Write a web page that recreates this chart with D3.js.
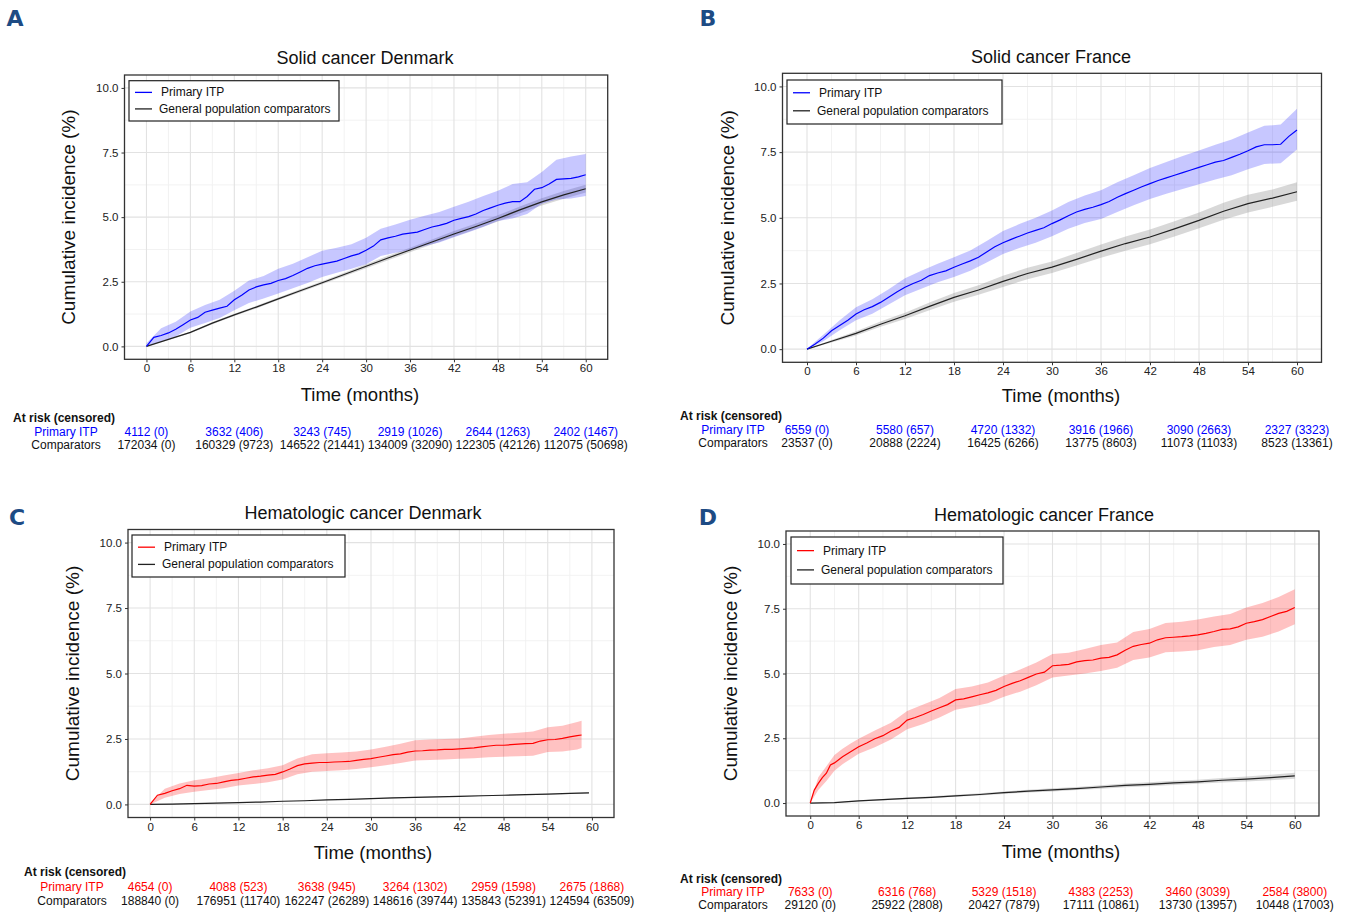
<!DOCTYPE html>
<html><head><meta charset="utf-8">
<script src="https://cdn.jsdelivr.net/npm/d3@7"></script>
<style>body{margin:0;background:#fff}svg{display:block;font-family:"Liberation Sans",Arial,sans-serif}</style>
</head><body>
<svg id="c" width="1345" height="924"></svg>
<script>
// ---------- DATA ----------
const xTicks = [0, 6, 12, 18, 24, 30, 36, 42, 48, 54, 60];
const yTicks = [0, 2.5, 5, 7.5, 10];
const atRiskMonths = [0, 12, 24, 36, 48, 60];
const seriesNames = ["Primary ITP", "General population comparators"];
const rowNames = ["Primary ITP", "Comparators"];
const titles = ["Solid cancer Denmark", "Solid cancer France", "Hematologic cancer Denmark", "Hematologic cancer France"];
const panelLetters = ["A", "B", "C", "D"];

// Panel A - Solid cancer Denmark
const aItpMonths = d3.range(0, 61);
const aItp = [0,0.35,0.42,0.52,0.66,0.84,1.02,1.12,1.32,1.40,1.48,1.55,1.80,1.98,2.18,2.30,2.38,2.44,2.55,2.62,2.74,2.88,3.02,3.12,3.18,3.24,3.30,3.40,3.50,3.58,3.72,3.88,4.12,4.20,4.26,4.34,4.38,4.42,4.52,4.62,4.68,4.76,4.88,4.95,5.02,5.12,5.26,5.36,5.46,5.54,5.60,5.60,5.80,6.08,6.14,6.28,6.46,6.48,6.50,6.56,6.64];
const aBandMonths = d3.range(0, 61, 2);
const aItpLow = [0,0.2,0.38,0.72,0.9,1.1,1.4,1.68,1.85,2.05,2.25,2.45,2.68,2.85,3.0,3.18,3.5,3.62,3.72,3.88,4.02,4.22,4.42,4.62,4.85,4.95,5.12,5.52,5.68,5.72,5.82];
const aItpHigh = [0.12,0.7,0.95,1.35,1.6,1.8,2.15,2.55,2.72,3.0,3.2,3.45,3.7,3.82,3.95,4.2,4.55,4.72,4.9,5.05,5.2,5.4,5.6,5.82,6.02,6.28,6.35,6.75,7.22,7.35,7.44];
const aCompMonths = d3.range(0, 61, 3);
const aComp = [0,0.27,0.54,0.9,1.22,1.52,1.84,2.15,2.46,2.78,3.1,3.42,3.73,4.04,4.35,4.64,4.95,5.28,5.59,5.86,6.1];
const aCompLow = [0,0.25,0.51,0.86,1.18,1.47,1.79,2.09,2.4,2.71,3.02,3.33,3.64,3.94,4.24,4.53,4.83,5.15,5.45,5.71,5.95];
const aCompHigh = [0,0.29,0.57,0.94,1.26,1.57,1.89,2.21,2.52,2.85,3.18,3.51,3.82,4.14,4.46,4.75,5.07,5.41,5.73,6.01,6.25];
const aRiskItp = [4112,3632,3243,2919,2644,2402];
const aCensItp = [0,406,745,1026,1263,1467];
const aRiskComp = [172034,160329,146522,134009,122305,112075];
const aCensComp = [0,9723,21441,32090,42126,50698];

// Panel B - Solid cancer France
const bItpMonths = d3.range(0, 61);
const bItp = [0,0.2,0.42,0.7,0.9,1.1,1.34,1.5,1.62,1.78,1.98,2.18,2.36,2.5,2.62,2.8,2.9,2.98,3.12,3.24,3.36,3.5,3.7,3.9,4.05,4.18,4.3,4.42,4.52,4.62,4.78,4.92,5.08,5.22,5.32,5.4,5.5,5.62,5.78,5.92,6.05,6.18,6.3,6.42,6.52,6.62,6.72,6.82,6.92,7.02,7.12,7.18,7.3,7.42,7.55,7.7,7.78,7.78,7.8,8.1,8.34];
const bBandMonths = d3.range(0, 61, 2);
const bItpLow = [0,0.3,0.72,1.1,1.35,1.7,2.05,2.3,2.55,2.75,2.98,3.3,3.62,3.85,4.05,4.3,4.58,4.8,4.95,5.22,5.48,5.72,5.92,6.1,6.28,6.46,6.62,6.85,7.05,7.08,7.6];
const bItpHigh = [0.02,0.55,1.1,1.6,1.9,2.28,2.7,2.98,3.25,3.5,3.76,4.12,4.5,4.76,5.0,5.28,5.6,5.85,6.05,6.35,6.62,6.9,7.12,7.35,7.56,7.78,7.98,8.25,8.5,8.55,9.15];
const bCompMonths = d3.range(0, 61, 3);
const bComp = [0,0.3,0.6,0.95,1.27,1.63,1.97,2.25,2.58,2.88,3.12,3.42,3.73,4.02,4.27,4.58,4.9,5.25,5.54,5.75,5.99];
const bCompLow = [0,0.25,0.52,0.85,1.15,1.48,1.8,2.07,2.37,2.66,2.9,3.18,3.48,3.75,3.99,4.29,4.6,4.93,5.2,5.42,5.65];
const bCompHigh = [0,0.35,0.68,1.05,1.39,1.78,2.14,2.43,2.79,3.1,3.34,3.66,3.98,4.29,4.55,4.87,5.2,5.57,5.88,6.08,6.35];
const bRiskItp = [6559,5580,4720,3916,3090,2327];
const bCensItp = [0,657,1332,1966,2663,3323];
const bRiskComp = [23537,20888,16425,13775,11073,8523];
const bCensComp = [0,2224,6266,8603,11033,13361];

// Panel C - Hematologic cancer Denmark
const cItpMonths = d3.range(0, 59).concat([58.6]);
const cItp = [0,0.35,0.42,0.52,0.6,0.73,0.7,0.72,0.78,0.8,0.86,0.92,0.95,1.0,1.05,1.08,1.12,1.15,1.24,1.35,1.48,1.55,1.58,1.6,1.6,1.62,1.63,1.64,1.68,1.72,1.75,1.8,1.85,1.9,1.93,2.0,2.04,2.05,2.07,2.08,2.1,2.1,2.12,2.14,2.16,2.2,2.23,2.26,2.26,2.28,2.3,2.32,2.33,2.42,2.47,2.48,2.52,2.58,2.63,2.65];
const cBandMonths = d3.range(0, 59, 2).concat([58.6]);
const cItpLow = [0,0.25,0.4,0.48,0.55,0.62,0.72,0.78,0.85,0.95,1.15,1.25,1.28,1.3,1.35,1.42,1.5,1.58,1.68,1.7,1.72,1.74,1.76,1.8,1.82,1.84,1.86,2.0,2.02,2.1,2.15];
const cItpHigh = [0.05,0.6,0.8,0.92,1.0,1.1,1.2,1.3,1.38,1.5,1.75,1.92,1.95,1.98,2.02,2.1,2.2,2.32,2.45,2.48,2.5,2.52,2.58,2.65,2.7,2.74,2.78,2.95,3.0,3.15,3.2];
const cCompMonths = d3.range(0, 60, 3).concat([59.6]);
const cComp = [0,0.01,0.03,0.05,0.07,0.09,0.12,0.14,0.17,0.19,0.22,0.25,0.27,0.29,0.31,0.33,0.35,0.37,0.39,0.42,0.44];
const cCompLow = [0,0.0,0.02,0.04,0.06,0.08,0.11,0.13,0.16,0.18,0.21,0.23,0.25,0.27,0.29,0.31,0.33,0.35,0.37,0.4,0.42];
const cCompHigh = [0,0.02,0.04,0.06,0.08,0.1,0.13,0.15,0.18,0.2,0.23,0.27,0.29,0.31,0.33,0.35,0.37,0.39,0.41,0.44,0.46];
const cRiskItp = [4654,4088,3638,3264,2959,2675];
const cCensItp = [0,523,945,1302,1598,1868];
const cRiskComp = [188840,176951,162247,148616,135843,124594];
const cCensComp = [0,11740,26289,39744,52391,63509];

// Panel D - Hematologic cancer France
const dItpMonths = [0,0.5,1,1.5,2,2.5].concat(d3.range(3, 61));
const dItp = [0,0.5,0.76,0.98,1.15,1.47,1.55,1.79,1.98,2.17,2.32,2.48,2.6,2.78,2.92,3.2,3.3,3.42,3.55,3.68,3.8,3.98,4.02,4.1,4.18,4.25,4.35,4.5,4.62,4.72,4.85,4.98,5.05,5.3,5.32,5.35,5.45,5.5,5.52,5.59,5.62,5.72,5.9,6.05,6.12,6.17,6.3,6.38,6.4,6.42,6.45,6.49,6.55,6.62,6.7,6.72,6.8,6.94,7.0,7.08,7.2,7.32,7.4,7.55];
const dBandMonths = [0,1,2,3,4,5].concat(d3.range(6, 61, 2));
const dItpLow = [0,0.5,0.85,1.25,1.5,1.7,1.9,2.15,2.45,2.85,3.05,3.3,3.6,3.72,3.85,4.1,4.3,4.55,4.85,4.92,5.0,5.1,5.22,5.52,5.62,5.82,5.85,5.9,6.02,6.1,6.3,6.42,6.62,6.9];
const dItpHigh = [0,1.0,1.42,1.85,2.1,2.3,2.48,2.8,3.1,3.55,3.8,4.05,4.4,4.5,4.65,4.92,5.15,5.42,5.75,5.8,5.95,6.1,6.2,6.6,6.72,6.95,7.0,7.08,7.2,7.3,7.55,7.72,7.95,8.25];
const dCompMonths = d3.range(0, 61, 3);
const dComp = [0,0.02,0.08,0.13,0.18,0.22,0.28,0.33,0.4,0.46,0.51,0.56,0.62,0.68,0.72,0.78,0.82,0.88,0.92,0.98,1.05];
const dCompLow = [0,0.01,0.06,0.1,0.15,0.19,0.24,0.29,0.35,0.41,0.45,0.5,0.55,0.61,0.65,0.7,0.74,0.79,0.83,0.88,0.94];
const dCompHigh = [0,0.03,0.1,0.16,0.21,0.26,0.32,0.38,0.45,0.51,0.57,0.62,0.69,0.75,0.8,0.86,0.9,0.97,1.02,1.09,1.17];
const dRiskItp = [7633,6316,5329,4383,3460,2584];
const dCensItp = [0,768,1518,2253,3039,3800];
const dRiskComp = [29120,25922,20427,17111,13730,10448];
const dCensComp = [0,2808,7879,10861,13957,17003];

// ---------- STYLE / LAYOUT ----------
const BLUE = "#0000ff", RED = "#ff0000", DARK = "#222222";
const panels = [
  {data:{itpM:aItpMonths,itp:aItp,bandM:aBandMonths,lo:aItpLow,hi:aItpHigh,compM:aCompMonths,comp:aComp,cLo:aCompLow,cHi:aCompHigh,rI:aRiskItp,cI:aCensItp,rC:aRiskComp,cC:aCensComp},
   color:BLUE, box:[124.5,75,607.7,359.3], letter:[15,18], title:[365,58], ylab:68, xlab:[360,394],
   legend:[129,80.7,339,121], risk:{hx:13,hy:418,lx:66,r1:431.5,r2:445}},
  {data:{itpM:bItpMonths,itp:bItp,bandM:bBandMonths,lo:bItpLow,hi:bItpHigh,compM:bCompMonths,comp:bComp,cLo:bCompLow,cHi:bCompHigh,rI:bRiskItp,cI:bCensItp,rC:bRiskComp,cC:bCensComp},
   color:BLUE, box:[782.5,73.3,1321.5,362.3], letter:[708,18], title:[1051,57], ylab:727, xlab:[1061,395],
   legend:[787,80,1002,124], risk:{hx:680,hy:416,lx:733,r1:430,r2:443}},
  {data:{itpM:cItpMonths,itp:cItp,bandM:cBandMonths,lo:cItpLow,hi:cItpHigh,compM:cCompMonths,comp:cComp,cLo:cCompLow,cHi:cCompHigh,rI:cRiskItp,cI:cCensItp,rC:cRiskComp,cC:cCensComp},
   color:RED, box:[128,529.5,614,817.5], letter:[17,517], title:[363,513], ylab:72, xlab:[373,852],
   legend:[132,535,345,577], risk:{hx:24,hy:872,lx:72,r1:887,r2:901}},
  {data:{itpM:dItpMonths,itp:dItp,bandM:dBandMonths,lo:dItpLow,hi:dItpHigh,compM:dCompMonths,comp:dComp,cLo:dCompLow,cHi:dCompHigh,rI:dRiskItp,cI:dCensItp,rC:dRiskComp,cC:dCensComp},
   color:RED, box:[786,531,1319,816], letter:[708,517], title:[1044,515], ylab:730, xlab:[1061,851],
   legend:[791,537,1003,584], risk:{hx:680,hy:879,lx:733,r1:892,r2:905}}
];

const svg = d3.select("#c");
svg.append("rect").attr("width",1345).attr("height",924).attr("fill","#fff");

panels.forEach((p, i) => {
  const [L,T,R,B] = p.box;
  const x = d3.scaleLinear().domain([-3,63]).range([L,R]);
  const y = d3.scaleLinear().domain([-0.5,10.5]).range([B,T]);
  const g = svg.append("g");
  const d = p.data;

  // grid
  const minorX = d3.range(3, 61, 6), minorY = [1.25, 3.75, 6.25, 8.75];
  g.selectAll(null).data(minorX).enter().append("line")
    .attr("x1", v=>x(v)).attr("x2", v=>x(v)).attr("y1",T).attr("y2",B)
    .attr("stroke","#f0f0f0").attr("stroke-width",0.9);
  g.selectAll(null).data(minorY).enter().append("line")
    .attr("y1", v=>y(v)).attr("y2", v=>y(v)).attr("x1",L).attr("x2",R)
    .attr("stroke","#f0f0f0").attr("stroke-width",0.9);
  g.selectAll(null).data(xTicks).enter().append("line")
    .attr("x1", v=>x(v)).attr("x2", v=>x(v)).attr("y1",T).attr("y2",B)
    .attr("stroke","#e2e2e2").attr("stroke-width",1.1);
  g.selectAll(null).data(yTicks).enter().append("line")
    .attr("y1", v=>y(v)).attr("y2", v=>y(v)).attr("x1",L).attr("x2",R)
    .attr("stroke","#e2e2e2").attr("stroke-width",1.1);

  // bands
  const area = (M, lo, hi) => d3.area().x((v,k)=>x(M[k])).y0((v,k)=>y(lo[k])).y1((v,k)=>y(hi[k]))(lo);
  g.append("path").attr("d", area(d.compM, d.cLo, d.cHi)).attr("fill","#7f7f7f").attr("fill-opacity",0.3);
  g.append("path").attr("d", area(d.bandM, d.lo, d.hi)).attr("fill",p.color).attr("fill-opacity",p.color===BLUE?0.22:0.24);

  // lines
  const lineComp = d3.line().x((v,k)=>x(d.compM[k])).y(v=>y(v));
  g.append("path").attr("d", lineComp(d.comp)).attr("fill","none").attr("stroke",DARK).attr("stroke-width",1.2);
  const lineItp = d3.line().x((v,k)=>x(d.itpM[k])).y(v=>y(v));
  g.append("path").attr("d", lineItp(d.itp)).attr("fill","none").attr("stroke",p.color).attr("stroke-width",1.2);

  // box
  g.append("rect").attr("x",L).attr("y",T).attr("width",R-L).attr("height",B-T)
    .attr("fill","none").attr("stroke","#333").attr("stroke-width",1.3);

  // axes
  const xAxis = d3.axisBottom(x).tickValues(xTicks).tickSize(3).tickPadding(2).tickFormat(d3.format("d"));
  const ga = g.append("g").attr("transform",`translate(0,${B})`).call(xAxis);
  const yAxis = d3.axisLeft(y).tickValues(yTicks).tickSize(3).tickPadding(3).tickFormat(d3.format(".1f"));
  const gy = g.append("g").attr("transform",`translate(${L},0)`).call(yAxis);
  [ga, gy].forEach(a => {
    a.select(".domain").remove();
    a.selectAll(".tick line").attr("stroke","#333").attr("stroke-width",1);
    a.selectAll(".tick text").attr("fill","#222").style("font-size","11.5px").style("font-family","Liberation Sans, Arial, sans-serif");
  });

  // titles and labels
  svg.append("text").attr("x",p.title[0]).attr("y",p.title[1]).attr("text-anchor","middle")
    .attr("dominant-baseline","central").style("font-size","18px").attr("fill","#111").text(titles[i]);
  svg.append("text").attr("x",p.letter[0]).attr("y",p.letter[1]).attr("text-anchor","middle")
    .attr("dominant-baseline","central").style("font-size","22px").style("font-weight","bold")
    .style("font-family","DejaVu Sans, sans-serif").attr("fill","#1d4b84").text(panelLetters[i]);
  svg.append("text").attr("transform",`translate(${p.ylab},${(T+B)/2}) rotate(-90)`).attr("text-anchor","middle")
    .attr("dominant-baseline","central").style("font-size","19px").attr("fill","#111").text("Cumulative incidence (%)");
  svg.append("text").attr("x",p.xlab[0]).attr("y",p.xlab[1]).attr("text-anchor","middle")
    .attr("dominant-baseline","central").style("font-size","18.5px").attr("fill","#111").text("Time (months)");

  // legend
  const [lx0,ly0,lx1,ly1] = p.legend;
  svg.append("rect").attr("x",lx0).attr("y",ly0).attr("width",lx1-lx0).attr("height",ly1-ly0)
    .attr("fill","#fff").attr("stroke","#222").attr("stroke-width",1.2);
  const rows = [ly0 + (ly1-ly0)*0.29, ly0 + (ly1-ly0)*0.7];
  const lcols = [p.color, DARK];
  seriesNames.forEach((nm, k) => {
    svg.append("line").attr("x1",lx0+6).attr("x2",lx0+23).attr("y1",rows[k]).attr("y2",rows[k])
      .attr("stroke",lcols[k]).attr("stroke-width",1.3);
    svg.append("text").attr("x",lx0+ (k===0?32:30)).attr("y",rows[k]).attr("dominant-baseline","central")
      .style("font-size","12px").attr("fill","#111").text(nm);
  });

  // at risk table
  const r = p.risk;
  svg.append("text").attr("x",r.hx).attr("y",r.hy).attr("dominant-baseline","central")
    .style("font-size","12px").style("font-weight","bold").attr("fill","#111").text("At risk (censored)");
  svg.append("text").attr("x",r.lx).attr("y",r.r1).attr("text-anchor","middle").attr("dominant-baseline","central")
    .style("font-size","12px").attr("fill",p.color).text(rowNames[0]);
  svg.append("text").attr("x",r.lx).attr("y",r.r2).attr("text-anchor","middle").attr("dominant-baseline","central")
    .style("font-size","12px").attr("fill","#111").text(rowNames[1]);
  atRiskMonths.forEach((m, k) => {
    svg.append("text").attr("x",x(m)).attr("y",r.r1).attr("text-anchor","middle").attr("dominant-baseline","central")
      .style("font-size","12px").attr("fill",p.color).text(`${d.rI[k]} (${d.cI[k]})`);
    svg.append("text").attr("x",x(m)).attr("y",r.r2).attr("text-anchor","middle").attr("dominant-baseline","central")
      .style("font-size","12px").attr("fill","#111").text(`${d.rC[k]} (${d.cC[k]})`);
  });
});
</script>
</body></html>
